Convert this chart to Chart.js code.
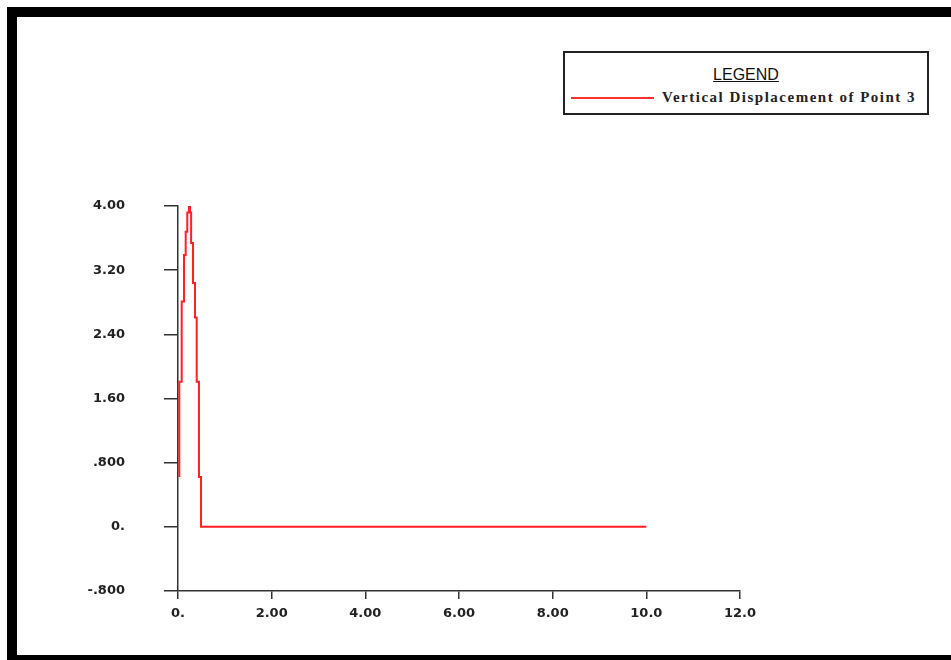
<!DOCTYPE html>
<html>
<head>
<meta charset="utf-8">
<script src="https://cdn.jsdelivr.net/npm/chart.js@4.4.1/dist/chart.umd.min.js"></script>
<style>
  html,body{margin:0;padding:0;background:#fff;overflow:hidden;}
  body{width:951px;height:660px;position:relative;}
  #frame{position:absolute;left:7px;top:7px;width:960px;height:658px;box-sizing:border-box;border:10px solid #000;}
  #wrap{position:absolute;left:0;top:0;width:951px;height:660px;}
  #legend{position:absolute;left:563px;top:51px;width:366px;height:64px;box-sizing:border-box;border:2px solid #222;background:#fff;}
  #legend .title{position:absolute;left:0;right:0;top:13px;text-align:center;font:16px "Liberation Sans",Arial,sans-serif;color:#111;text-decoration:underline;}
  #legend .swatch{position:absolute;left:6px;top:44px;width:83px;height:2px;background:#ff3030;}
  #legend .label{position:absolute;left:97px;top:36px;font:bold 15px "Liberation Serif","Times New Roman",serif;letter-spacing:1.5px;color:#222;white-space:nowrap;}
</style>
</head>
<body>
<div id="frame"></div>
<div id="wrap"><canvas id="c" width="951" height="660"></canvas></div>
<div id="legend">
  <div class="title">LEGEND</div>
  <div class="swatch"></div>
  <div class="label">Vertical Displacement of Point 3</div>
</div>
<script>
(() => {
  "use strict";

  // values (stair-stepped trace)
  const TIME = [0.028, 0.028, 0.079, 0.128, 0.164, 0.198, 0.235, 0.256, 0.28, 0.32, 0.363, 0.399, 0.448, 0.491, 10.0];
  const DISP = [0.62, 1.81, 2.81, 3.39, 3.68, 3.92, 4.02, 3.92, 3.54, 3.04, 2.61, 1.81, 0.62, 0, 0];

  const X_TICKS = [0, 2, 4, 6, 8, 10, 12];
  const X_LABELS = ["0.", "2.00", "4.00", "6.00", "8.00", "10.0", "12.0"];
  const Y_TICKS = [4.0, 3.2, 2.4, 1.6, 0.8, 0, -0.8];
  const Y_LABELS = ["4.00", "3.20", "2.40", "1.60", ".800", "0.", "-.800"];

  const SERIES_NAME = "Vertical Displacement of Point 3";

  const pts = TIME.map((t, i) => ({ x: t, y: DISP[i] }));
  const tickFont = { family: "DejaVu Sans", size: 13, weight: "bold" };

  const labelFor = (vals, labels) => (v) => {
    const i = vals.findIndex(t => Math.abs(t - v) < 1e-6);
    return i < 0 ? "" : labels[i];
  };

  new Chart(document.getElementById("c"), {
    type: "line",
    data: {
      datasets: [{
        label: SERIES_NAME,
        data: pts,
        borderColor: "#ff2020",
        borderWidth: 2,
        pointRadius: 0,
        stepped: true,
        fill: false
      }]
    },
    options: {
      responsive: false,
      animation: false,
      events: [],
      layout: { padding: { left: 0, top: 206, right: 211, bottom: 0 } },
      plugins: { legend: { display: false }, tooltip: { enabled: false } },
      scales: {
        x: {
          type: "linear",
          min: 0, max: 12,
          afterBuildTicks: (s) => { s.ticks = X_TICKS.map(v => ({ value: v })); },
          afterFit: (s) => { s.height = 69; },
          grid: { display: true, drawOnChartArea: false, drawTicks: true, tickLength: 8, color: "#333", lineWidth: 1.5 },
          border: { display: true, color: "#333", width: 1.5 },
          ticks: { font: tickFont, color: "#222", padding: 7, maxRotation: 0, autoSkip: false,
                   callback: labelFor(X_TICKS, X_LABELS) }
        },
        y: {
          type: "linear",
          min: -0.8, max: 4.0,
          afterBuildTicks: (s) => { s.ticks = Y_TICKS.map(v => ({ value: v })); },
          afterFit: (s) => { s.width = 178; },
          grid: { display: true, drawOnChartArea: false, drawTicks: true, tickLength: 14, color: "#333", lineWidth: 1.5 },
          border: { display: true, color: "#333", width: 1.5 },
          ticks: { font: tickFont, color: "#222", padding: 39, autoSkip: false,
                   callback: labelFor(Y_TICKS, Y_LABELS) }
        }
      }
    }
  });
})();
</script>
</body>
</html>
